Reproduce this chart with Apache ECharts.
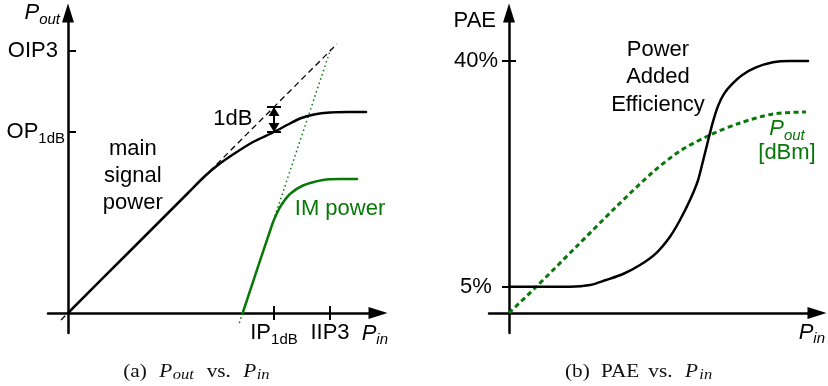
<!DOCTYPE html>
<html>
<head>
<meta charset="utf-8">
<script src="https://cdn.jsdelivr.net/npm/echarts@6/dist/echarts.min.js"></script>
<style>
  html, body { margin: 0; padding: 0; background: #fff; }
  #chart { width: 828px; height: 386px; }
</style>
</head>
<body>
<div id="chart"></div>
<script>
// ---- (a) Pout vs. Pin : main tone, its linear extension and the IM3 product ----
const mainSignal = [[0, 0], [6, 6], [12, 12], [13.7, 13.7], [15, 14.8], [16.5, 15.85], [18.5, 17.1],
                    [20.6, 18.1], [22, 18.85], [23.2, 19.45], [24.6, 19.85], [26.2, 20.05], [28, 20.1], [29.8, 20.1]];
const linearExtension = [[-0.7, -0.7], [26.9, 26.9]];
const imPower = [[17.47, 0], [20.4, 8.8], [20.9, 10.0], [21.4, 10.9], [22.2, 11.9], [23.5, 12.75],
                 [25.5, 13.3], [27.2, 13.4], [28.9, 13.4]];
const imExtension = [[17.13, -1.0], [26.27, 26.4]];

// named ticks: [main text, subscript]
const pinTickValues = [20.6, 26.2];
const pinTickLabels = [['IP', '1dB'], ['IIP3', '']];
const poutTickValues = [18.1, 26.2];
const poutTickLabels = [['OP', '1dB'], ['OIP3', '']];

// 1 dB compression bracket at IP1dB: linear output vs actual output
const compressionAt = 20.6;
const compressionLinear = 20.6;
const compressionActual = 18.1;

// ---- (b) PAE vs. Pin ----
const paeCurve = [[0, 5], [6.1, 5], [8.1, 5.26], [9.7, 6.04], [11.4, 6.97], [13.1, 8.37], [14.7, 10.18],
                  [16.1, 12.75], [17.1, 15.34], [18.1, 18.44], [18.9, 21.5], [19.4, 24.5], [19.9, 27.6],
                  [20.4, 30.6], [20.9, 33.0], [21.5, 34.9], [22.3, 36.4], [23.3, 37.8], [24.7, 39.0],
                  [26.4, 39.8], [28.1, 40], [29.9, 40]];
const poutDbm = [[0, 0], [2.7, 2.6], [6.7, 6.6], [10.7, 10.6], [14.4, 14.1], [17.1, 16.2], [20.1, 17.8],
                 [23.1, 19.0], [26.4, 19.9], [29.7, 20.1]];
const paeTickValues = [5, 40];
const paeTickLabels = ['5%', '40%'];

const GREEN = '#087808';
const SANS = 'Liberation Sans';
const SERIF = 'Liberation Serif';

const labelRich = {
  m: { fontSize: 22, fontFamily: SANS, color: '#000', lineHeight: 28 },
  mp: { fontSize: 22, fontFamily: SANS, color: '#000', lineHeight: 28, padding: [0, 7, 0, 0] },
  c: { fontSize: 22, fontFamily: SANS, color: '#000', lineHeight: 28, width: 46, align: 'center' },
  s: { fontSize: 15, fontFamily: SANS, color: '#000', lineHeight: 28, padding: [13, 0, 0, 0] }
};
const italicRich = (color) => ({
  p: { fontSize: 22, fontFamily: SANS, fontStyle: 'italic', color: color, lineHeight: 28 },
  s: { fontSize: 15, fontFamily: SANS, fontStyle: 'italic', color: color, lineHeight: 28, padding: [13, 0, 0, 0] }
});
const subText = (parts, plain) => parts[1] ? `{m|${parts[0]}}{s|${parts[1]}}` : `{${plain}|${parts[0]}}`;

const axisLineStyle = { color: '#000', width: 2.5 };
const tickStyle = { color: '#000', width: 2 };
const arrowEnd = { symbol: ['none', 'triangle'], symbolSize: [12, 19] };
const SMOOTH = 0.3;

const chart = echarts.init(document.getElementById('chart'), null, { renderer: 'canvas' });

// tick labels are laid out from the grid edge, so their margins are measured from there
const option = {
  animation: false,
  backgroundColor: '#fff',
  textStyle: { fontFamily: SANS },
  grid: [
    { left: 48, top: 13, width: 330, height: 320, containLabel: false, outerBoundsMode: 'none' },
    { left: 489, top: 13, width: 328, height: 320, containLabel: false, outerBoundsMode: 'none' }
  ],
  xAxis: [
    { // (a) Pin axis
      gridIndex: 0, type: 'value', min: -2, max: 31, position: 'bottom',
      axisLine: Object.assign({ onZero: true, onZeroAxisIndex: 0, lineStyle: axisLineStyle }, arrowEnd),
      axisTick: { show: true, length: 7, customValues: pinTickValues, lineStyle: tickStyle },
      axisLabel: {
        show: true, customValues: pinTickValues, margin: -14,
        formatter: (v) => subText(pinTickLabels[pinTickValues.indexOf(v)], 'm'), rich: labelRich
      },
      splitLine: { show: false },
      name: '{p|P}{s|in}', nameLocation: 'end', nameGap: 10, nameMoveOverlap: false,
      nameTextStyle: { align: 'right', verticalAlign: 'middle', padding: [41, 0, 0, 0], rich: italicRich('#000') }
    },
    { // (a) upper half of the crossing ticks
      gridIndex: 0, type: 'value', min: -2, max: 31, position: 'top',
      axisLine: { show: false, onZero: true, onZeroAxisIndex: 0 },
      axisTick: { show: true, length: 7, customValues: pinTickValues, lineStyle: tickStyle },
      axisLabel: { show: false },
      splitLine: { show: false }
    },
    { // (b) Pin axis
      gridIndex: 1, type: 'value', min: -2, max: 30.8, position: 'bottom',
      axisLine: Object.assign({ onZero: true, onZeroAxisIndex: 1, lineStyle: axisLineStyle }, arrowEnd),
      axisTick: { show: false },
      axisLabel: { show: false },
      splitLine: { show: false },
      name: '{p|P}{s|in}', nameLocation: 'end', nameGap: 8, nameMoveOverlap: false,
      nameTextStyle: { align: 'right', verticalAlign: 'middle', padding: [39, 0, 0, 0], rich: italicRich('#000') }
    }
  ],
  yAxis: [
    { // (a) Pout axis
      gridIndex: 0, type: 'value', min: -2, max: 30, position: 'left',
      axisLine: Object.assign({ onZero: true, onZeroAxisIndex: 0, lineStyle: axisLineStyle }, arrowEnd),
      axisTick: { show: true, inside: true, length: 8, customValues: poutTickValues, lineStyle: tickStyle },
      axisLabel: {
        show: true, customValues: poutTickValues, margin: -17,
        formatter: (v) => subText(poutTickLabels[poutTickValues.indexOf(v)], 'mp'), rich: labelRich
      },
      splitLine: { show: false },
      name: '{p|P}{s|out}', nameLocation: 'end', nameGap: 0, nameMoveOverlap: false,
      nameTextStyle: { align: 'right', verticalAlign: 'middle', padding: [0, 8, 0, 0], rich: italicRich('#000') }
    },
    { // (b) level axis carrying Pout [dBm]
      gridIndex: 1, type: 'value', min: -2, max: 30, position: 'left',
      axisLine: Object.assign({ onZero: true, onZeroAxisIndex: 2, lineStyle: axisLineStyle }, arrowEnd),
      axisTick: { show: false },
      axisLabel: { show: false },
      splitLine: { show: false },
      name: '{m|PAE}', nameLocation: 'end', nameGap: -8, nameMoveOverlap: false,
      nameTextStyle: { align: 'right', verticalAlign: 'middle', padding: [0, 13, 0, 0], rich: labelRich }
    },
    { // (b) PAE in percent, left half of the crossing ticks
      gridIndex: 1, type: 'value', min: -2.18, max: 47.44, position: 'left',
      axisLine: { show: false, onZero: true, onZeroAxisIndex: 2 },
      axisTick: { show: true, length: 7, customValues: paeTickValues, lineStyle: tickStyle },
      axisLabel: {
        show: true, customValues: paeTickValues, margin: -10,
        formatter: (v) => `{c|${paeTickLabels[paeTickValues.indexOf(v)]}}`, rich: labelRich
      },
      splitLine: { show: false }
    },
    { // (b) PAE in percent, right half of the crossing ticks
      gridIndex: 1, type: 'value', min: -2.18, max: 47.44, position: 'right',
      axisLine: { show: false, onZero: true, onZeroAxisIndex: 2 },
      axisTick: { show: true, length: 7, customValues: paeTickValues, lineStyle: tickStyle },
      axisLabel: { show: false },
      splitLine: { show: false }
    }
  ],
  series: [
    {
      name: 'linear extension', type: 'line', xAxisIndex: 0, yAxisIndex: 0, silent: true,
      data: linearExtension, showSymbol: false, z: 2,
      lineStyle: { color: '#000', width: 1.3, type: [6, 4] },
      markLine: {
        silent: true, animation: false, symbol: ['none', 'none'],
        label: { show: false },
        lineStyle: { color: '#000', width: 2, type: 'solid' },
        emphasis: { disabled: true },
        data: [
          [
            { coord: [compressionAt, compressionActual], symbol: 'triangle', symbolSize: [11, 9], symbolOffset: [0, 4.5] },
            { coord: [compressionAt, compressionLinear], symbol: 'triangle', symbolSize: [11, 9], symbolOffset: [0, 4.5] }
          ],
          [{ coord: [compressionAt - 0.7, compressionLinear] }, { coord: [compressionAt + 0.7, compressionLinear] }],
          [{ coord: [compressionAt - 0.7, compressionActual] }, { coord: [compressionAt + 0.7, compressionActual] }]
        ]
      }
    },
    {
      name: 'IM extension', type: 'line', xAxisIndex: 0, yAxisIndex: 0, silent: true,
      data: imExtension, showSymbol: false, z: 2,
      lineStyle: { color: GREEN, width: 1.5, type: [1.5, 3] }
    },
    {
      name: 'main signal power', type: 'line', xAxisIndex: 0, yAxisIndex: 0, silent: true,
      data: mainSignal, showSymbol: false, smooth: SMOOTH, z: 3,
      lineStyle: { color: '#000', width: 2.5, cap: 'round' },
      markPoint: {
        silent: true, animation: false, symbol: 'circle', symbolSize: 1,
        itemStyle: { color: 'rgba(0,0,0,0)' },
        label: { show: true, position: 'inside', color: '#000', fontFamily: SANS, fontSize: 22, lineHeight: 27, align: 'center' },
        data: [
          { coord: [6.48, 13.7], label: { formatter: 'main\nsignal\npower' } },
          { coord: [16.48, 19.43], label: { formatter: '1dB' } }
        ]
      }
    },
    {
      name: 'IM power', type: 'line', xAxisIndex: 0, yAxisIndex: 0, silent: true,
      data: imPower, showSymbol: false, smooth: SMOOTH, z: 3,
      lineStyle: { color: GREEN, width: 2.5, cap: 'round' },
      markPoint: {
        silent: true, animation: false, symbol: 'circle', symbolSize: 1,
        itemStyle: { color: 'rgba(0,0,0,0)' },
        label: { show: true, position: 'inside', color: GREEN, fontFamily: SANS, fontSize: 22 },
        data: [{ coord: [27.2, 10.4], label: { formatter: 'IM power' } }]
      }
    },
    {
      name: 'Pout [dBm]', type: 'line', xAxisIndex: 2, yAxisIndex: 1, silent: true,
      data: poutDbm, showSymbol: false, smooth: SMOOTH, z: 2,
      lineStyle: { color: GREEN, width: 3, type: [5, 3.5] },
      markPoint: {
        silent: true, animation: false, symbol: 'circle', symbolSize: 1,
        itemStyle: { color: 'rgba(0,0,0,0)' },
        label: {
          show: true, position: 'inside', align: 'center',
          formatter: '{p|P}{s|out}\n{n|[dBm]}',
          rich: {
            p: { fontSize: 22, fontFamily: SANS, fontStyle: 'italic', color: GREEN, lineHeight: 24 },
            s: { fontSize: 15, fontFamily: SANS, fontStyle: 'italic', color: GREEN, lineHeight: 24, padding: [13, 0, 0, 0] },
            n: { fontSize: 22, fontFamily: SANS, color: GREEN, lineHeight: 24 }
          }
        },
        data: [{ coord: [27.8, 17.2] }]
      }
    },
    {
      name: 'PAE', type: 'line', xAxisIndex: 2, yAxisIndex: 2, silent: true,
      data: paeCurve, showSymbol: false, smooth: SMOOTH, z: 3,
      lineStyle: { color: '#000', width: 2.5, cap: 'round' },
      markPoint: {
        silent: true, animation: false, symbol: 'circle', symbolSize: 1,
        itemStyle: { color: 'rgba(0,0,0,0)' },
        label: { show: true, position: 'inside', color: '#000', fontFamily: SANS, fontSize: 22, lineHeight: 27.5, align: 'center' },
        data: [{ coord: [14.9, 37.5], label: { formatter: 'Power\nAdded\nEfficiency' } }]
      }
    }
  ],
  graphic: [
    {
      type: 'text', x: 197.5, y: 372, scaleX: 1.18, silent: true,
      style: {
        text: '{a|(a)}{p|P}{o|out}{v|vs.}{p|P}{i|in}',
        align: 'center', verticalAlign: 'middle',
        rich: {
          a: { fontFamily: SERIF, fontSize: 18, fill: '#111', width: 30.5, align: 'left' },
          p: { fontFamily: SERIF, fontSize: 18, fontStyle: 'italic', fill: '#111', width: 11.4, align: 'left' },
          o: { fontFamily: SERIF, fontSize: 14, fontStyle: 'italic', fill: '#111', width: 28.8, align: 'left', padding: [6, 0, 0, 0] },
          v: { fontFamily: SERIF, fontSize: 18, fill: '#111', width: 31, align: 'left' },
          i: { fontFamily: SERIF, fontSize: 14, fontStyle: 'italic', fill: '#111', width: 12.7, align: 'left', padding: [6, 0, 0, 0] }
        }
      }
    },
    {
      type: 'text', x: 639.2, y: 372, scaleX: 1.18, silent: true,
      style: {
        text: '{b|(b)}{e|PAE}{v|vs.}{p|P}{i|in}',
        align: 'center', verticalAlign: 'middle',
        rich: {
          b: { fontFamily: SERIF, fontSize: 18, fill: '#111', width: 30.5, align: 'left' },
          e: { fontFamily: SERIF, fontSize: 18, fill: '#111', width: 40.1, align: 'left' },
          v: { fontFamily: SERIF, fontSize: 18, fill: '#111', width: 31.1, align: 'left' },
          p: { fontFamily: SERIF, fontSize: 18, fontStyle: 'italic', fill: '#111', width: 12.1, align: 'left' },
          i: { fontFamily: SERIF, fontSize: 14, fontStyle: 'italic', fill: '#111', width: 11.9, align: 'left', padding: [6, 0, 0, 0] }
        }
      }
    }
  ]
};

chart.setOption(option);
</script>
</body>
</html>
